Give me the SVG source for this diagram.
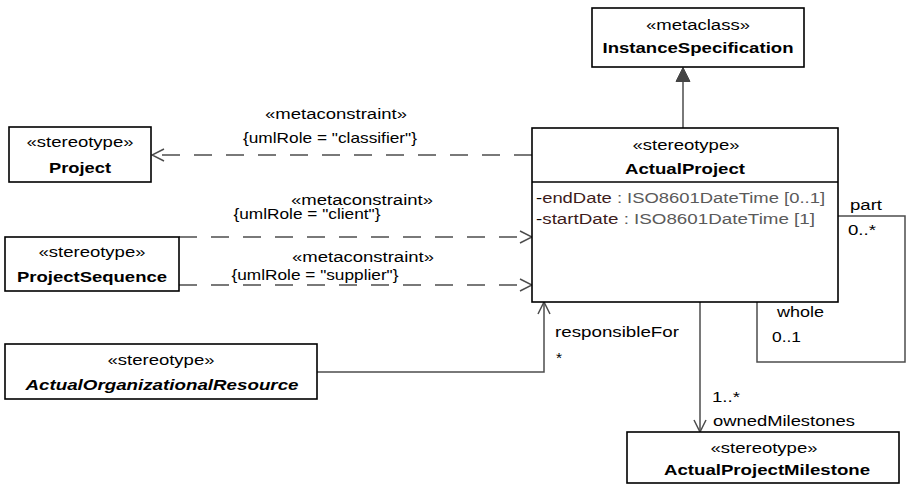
<svg xmlns="http://www.w3.org/2000/svg" width="910" height="487" viewBox="0 0 910 487">
<style>
  .box { fill: #ffffff; stroke: #000000; stroke-width: 1.6; }
  .t { font-family: "Liberation Sans", Arial, sans-serif; font-size: 15.5px; fill: #000000; }
  .c { text-anchor: middle; }
  .b { font-weight: bold; }
  .i { font-style: italic; }
  .s { font-size: 14.5px; }
  .ln { fill: none; stroke: #4d4d4d; stroke-width: 1.5; }
  .dash { stroke-dasharray: 18 14; }
  .nm { fill: #3d1c1c; }
  .ty { fill: #5a5a5a; }
</style>
<defs>
  <marker id="open" viewBox="0 0 14 14" refX="13" refY="7" markerWidth="14" markerHeight="14" markerUnits="userSpaceOnUse" orient="auto">
    <path d="M1,1 L13,7 L1,13" fill="none" stroke="#4d4d4d" stroke-width="1.5"/>
  </marker>
  <marker id="tri" viewBox="0 0 16 16" refX="15" refY="8" markerWidth="16" markerHeight="16" markerUnits="userSpaceOnUse" orient="auto">
    <path d="M1,1 L15,8 L1,15 Z" fill="#444444" stroke="#444444" stroke-width="1"/>
  </marker>
</defs>

<g id="connectors">
  <line class="ln" x1="683" y1="128" x2="683" y2="67.5" marker-end="url(#tri)"/>
  <line class="ln dash" x1="532" y1="155" x2="152" y2="155" marker-end="url(#open)"/>
  <line class="ln dash" x1="179" y1="237" x2="532" y2="237" marker-end="url(#open)"/>
  <line class="ln dash" x1="179" y1="285" x2="532" y2="285" marker-end="url(#open)"/>
  <polyline class="ln" points="317,372 544,372 544,302" marker-end="url(#open)"/>
  <line class="ln" x1="700" y1="302" x2="700" y2="432" marker-end="url(#open)"/>
  <polyline class="ln" points="838,216 905,216 905,362 757,362 757,302"/>

  <text class="t c" x="336" y="119" textLength="142" lengthAdjust="spacingAndGlyphs">«metaconstraint»</text>
  <text class="t s c" x="330" y="143" textLength="174" lengthAdjust="spacingAndGlyphs">{umlRole = "classifier"}</text>
  <text class="t c" x="362" y="205" textLength="142" lengthAdjust="spacingAndGlyphs">«metaconstraint»</text>
  <text class="t s c" x="307" y="219" textLength="147" lengthAdjust="spacingAndGlyphs">{umlRole = "client"}</text>
  <text class="t c" x="363" y="262" textLength="142" lengthAdjust="spacingAndGlyphs">«metaconstraint»</text>
  <text class="t s c" x="315" y="280" textLength="167" lengthAdjust="spacingAndGlyphs">{umlRole = "supplier"}</text>
  <text class="t" x="555" y="337" textLength="124" lengthAdjust="spacingAndGlyphs">responsibleFor</text>
  <text class="t" x="556" y="363">*</text>
  <text class="t" x="712" y="402" textLength="28" lengthAdjust="spacingAndGlyphs">1..*</text>
  <text class="t" x="713" y="426" textLength="142" lengthAdjust="spacingAndGlyphs">ownedMilestones</text>
  <text class="t" x="850" y="210" textLength="32" lengthAdjust="spacingAndGlyphs">part</text>
  <text class="t" x="848" y="235" textLength="28" lengthAdjust="spacingAndGlyphs">0..*</text>
  <text class="t" x="777" y="317" textLength="47" lengthAdjust="spacingAndGlyphs">whole</text>
  <text class="t" x="772" y="342" textLength="29" lengthAdjust="spacingAndGlyphs">0..1</text>
</g>

<g id="InstanceSpecification">
  <rect class="box" x="592" y="8" width="212" height="59"/>
  <text class="t c" x="698" y="30" textLength="104" lengthAdjust="spacingAndGlyphs">«metaclass»</text>
  <text class="t c b" x="698" y="53" textLength="191" lengthAdjust="spacingAndGlyphs">InstanceSpecification</text>
</g>

<g id="Project">
  <rect class="box" x="9" y="127" width="142" height="55"/>
  <text class="t c" x="80" y="147" textLength="107" lengthAdjust="spacingAndGlyphs">«stereotype»</text>
  <text class="t c b" x="80" y="173" textLength="62" lengthAdjust="spacingAndGlyphs">Project</text>
</g>

<g id="ProjectSequence">
  <rect class="box" x="5" y="237" width="174" height="54"/>
  <text class="t c" x="92" y="257" textLength="107" lengthAdjust="spacingAndGlyphs">«stereotype»</text>
  <text class="t c b" x="92" y="282" textLength="150" lengthAdjust="spacingAndGlyphs">ProjectSequence</text>
</g>

<g id="ActualOrganizationalResource">
  <rect class="box" x="5" y="344" width="312" height="55"/>
  <text class="t c" x="161" y="365" textLength="107" lengthAdjust="spacingAndGlyphs">«stereotype»</text>
  <text class="t c b i" x="162" y="390" textLength="273" lengthAdjust="spacingAndGlyphs">ActualOrganizationalResource</text>
</g>

<g id="ActualProject">
  <rect class="box" x="532" y="128" width="306" height="174"/>
  <line x1="532" y1="182" x2="838" y2="182" stroke="#000000" stroke-width="1.6"/>
  <text class="t c" x="686" y="150" textLength="107" lengthAdjust="spacingAndGlyphs">«stereotype»</text>
  <text class="t c b" x="685" y="174" textLength="120" lengthAdjust="spacingAndGlyphs">ActualProject</text>
  <text class="t" x="536" y="203" textLength="289" lengthAdjust="spacingAndGlyphs">-<tspan class="nm">endDate</tspan><tspan class="ty"> : ISO8601DateTime [0..1]</tspan></text>
  <text class="t" x="536" y="224" textLength="279" lengthAdjust="spacingAndGlyphs">-<tspan class="nm">startDate</tspan><tspan class="ty"> : ISO8601DateTime [1]</tspan></text>
</g>

<g id="ActualProjectMilestone">
  <rect class="box" x="627" y="432" width="272" height="51"/>
  <text class="t c" x="764" y="453" textLength="107" lengthAdjust="spacingAndGlyphs">«stereotype»</text>
  <text class="t c b" x="767" y="475" textLength="206" lengthAdjust="spacingAndGlyphs">ActualProjectMilestone</text>
</g>
</svg>
